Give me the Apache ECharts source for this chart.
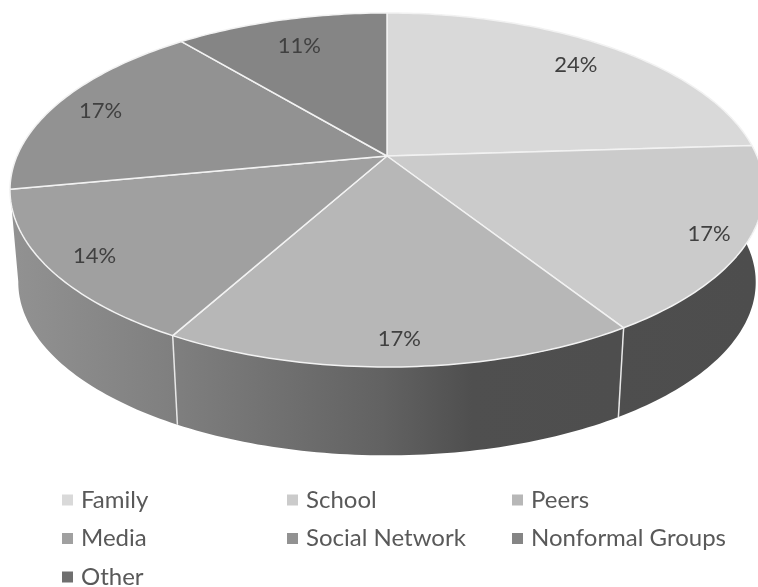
<!DOCTYPE html>
<html>
<head>
<meta charset="utf-8">
<style>
html, body { margin: 0; padding: 0; background: #fff; }
#chart { width: 758px; height: 587px; }
</style>
<script src="https://cdn.jsdelivr.net/npm/echarts@6/dist/echarts.min.js"></script>
</head>
<body>
<div id="chart"></div>
<script>
var categories = ['Family', 'School', 'Peers', 'Media', 'Social Network', 'Nonformal Groups', 'Other'];
var values = [24, 17, 17, 14, 17, 11, 0];
var colors = ['#d9d9d9', '#cbcbcb', '#b7b7b7', '#a0a0a0', '#929292', '#858585', '#6f6f6f'];
var legendColumns = [[0, 3, 6], [1, 4], [2, 5]];
var legendLefts = [62, 287, 512];

// perspective disc: the apex sits above the middle of the rim ellipse
var apexX = 387, apexY = 156, radiusX = 370, radiusY = 170.5, persp = 0.192;
var baseY = 249, baseScale = 0.978;

var total = values.reduce(function (a, b) { return a + b; }, 0);

function project(deg, r, isBase) {
	var t = deg * Math.PI / 180;
	var X = Math.sin(t) * r, Y = Math.cos(t) * r;
	var w = 1 + persp * Y;
	var s = isBase ? baseScale : 1;
	return [apexX + s * radiusX * X / w, (isBase ? baseY : apexY) - s * radiusY * Y / w];
}

function arc(from, to, isBase) {
	var pts = [];
	var n = Math.ceil(Math.abs(to - from));
	for (var i = 0; i <= n; i++) {
		pts.push(project(from + (to - from) * i / n, 1, isBase));
	}
	return pts;
}

var wallFill = new echarts.graphic.LinearGradient(10, 0, 755, 0, [
	{ offset: 0, color: '#929292' },
	{ offset: 0.22, color: '#7f7f7f' },
	{ offset: 0.5, color: '#626262' },
	{ offset: 0.62, color: '#4f4f4f' },
	{ offset: 1, color: '#4d4d4d' }
], true);

function sliceItem(index) {
	return function () {
		var value = values[index];
		if (!value) return { type: 'group', children: [] };
		var before = 0;
		for (var i = 0; i < index; i++) before += values[i];
		var from = before / total * 360;
		var to = (before + value) / total * 360;
		var mid = (from + to) / 2;
		var cosMid = Math.cos(mid * Math.PI / 180);
		var sinMid = Math.sin(mid * Math.PI / 180);
		var children = [];

		if (cosMid < 0) {
			children.push({
				type: 'polygon',
				shape: { points: arc(from, to, false).concat(arc(to, from, true)) },
				style: { fill: wallFill }
			});
			if (to > 90 && to < 250) {
				var a = project(to, 1, false), b = project(to, 1, true);
				children.push({
					type: 'line',
					shape: { x1: a[0], y1: a[1], x2: b[0], y2: b[1] },
					style: { stroke: '#e8e8e8', lineWidth: 1.5 },
					z2: 2
				});
			}
		}

		children.push({
			type: 'polygon',
			shape: { points: [[apexX, apexY]].concat(arc(from, to, false)) },
			style: { fill: colors[index], stroke: '#f2f2f2', lineWidth: 1.5, lineJoin: 'round' },
			z2: 3
		});

		// labels sit further in towards the back, a bit further out at front right
		var back = Math.max(0, cosMid);
		var frontRight = Math.max(0, -cosMid) * Math.max(0, sinMid);
		var labelPos = project(mid, 0.88 - 0.09 * back * back + 0.05 * frontRight, false);
		children.push({
			type: 'text',
			style: {
				text: value + '%',
				x: labelPos[0],
				y: labelPos[1] + 2,
				align: 'center',
				verticalAlign: 'middle',
				fill: '#404040',
				font: '22px Lato'
			},
			z2: 4
		});
		return { type: 'group', children: children };
	};
}

var chart = echarts.init(document.getElementById('chart'), null, { renderer: 'canvas' });
chart.setOption({
	animation: false,
	legend: legendColumns.map(function (col, i) {
		return {
			orient: 'vertical',
			left: legendLefts[i],
			top: 488,
			height: 130,
			padding: 0,
			icon: 'rect',
			itemWidth: 11,
			itemHeight: 11,
			itemGap: 14.5,
			selectedMode: false,
			textStyle: { color: '#595959', fontFamily: 'Lato', fontSize: 24, padding: [0, 0, 0, 3] },
			data: col.map(function (k) { return categories[k]; })
		};
	}),
	series: categories.map(function (name, i) {
		return {
			type: 'custom',
			name: name,
			coordinateSystem: 'none',
			silent: true,
			itemStyle: { color: colors[i] },
			data: [values[i]],
			renderItem: sliceItem(i)
		};
	})
});
</script>
</body>
</html>
